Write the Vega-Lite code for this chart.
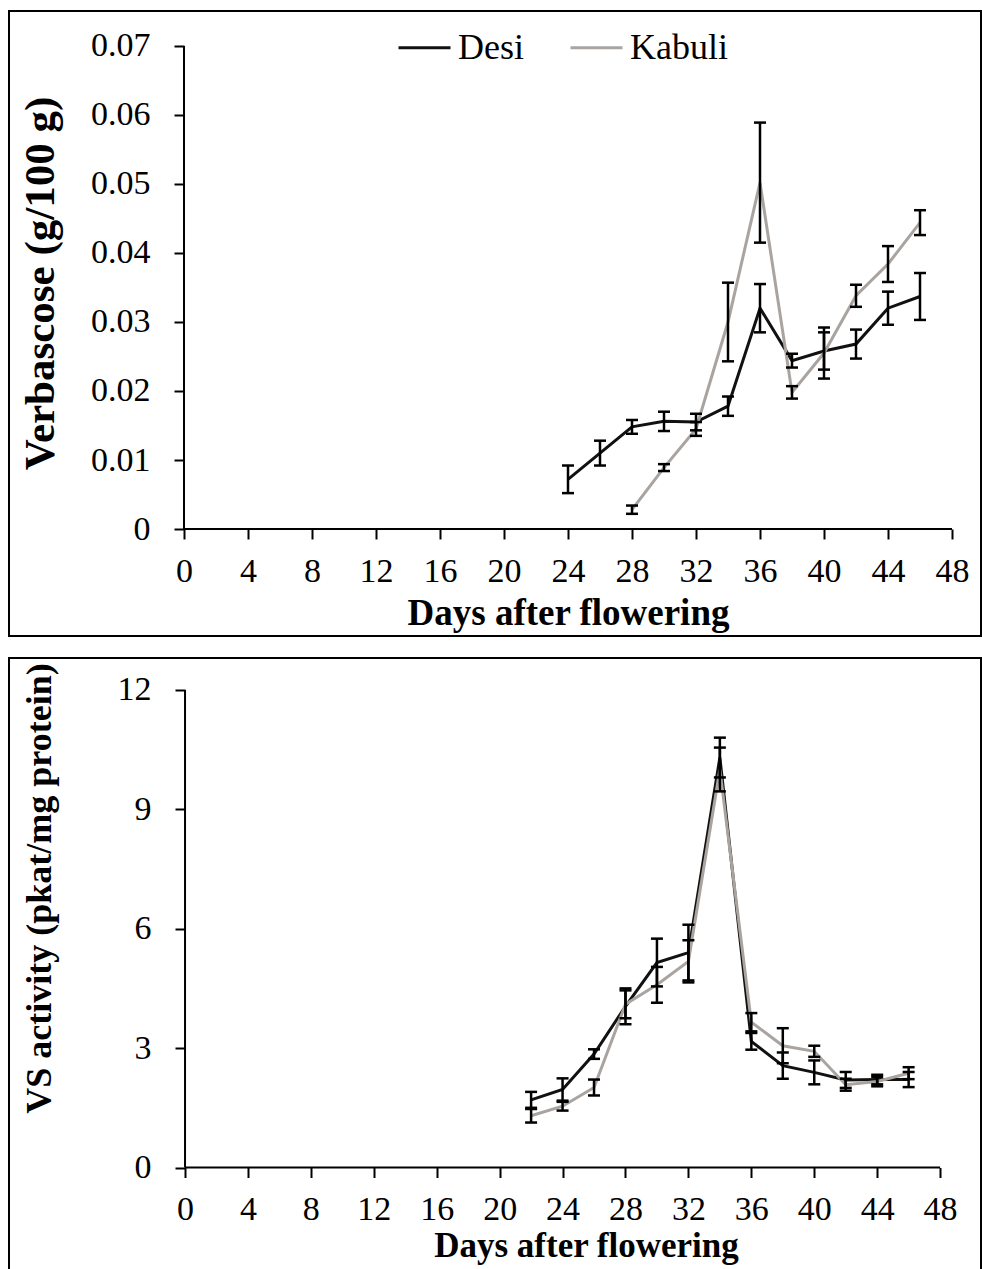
{
  "$schema": "https://vega.github.io/schema/vega-lite/v6.json",
  "background": "white",
  "padding": {"left": 8, "top": 10, "right": 0, "bottom": 0},
  "spacing": 20,
  "config": {
    "font": "Liberation Serif",
    "axis": {"grid": false, "domain": false, "tickColor": "black", "tickWidth": 2, "tickSize": 10, "labelColor": "black", "labelFont": "Liberation Serif", "labelFontSize": 34, "labelPadding": 15, "titleColor": "black", "titleFont": "Liberation Serif", "titleFontWeight": "bold", "titleFontSize": 34},
    "axisY": {"labelPadding": 24},
    "legend": {"labelFont": "Liberation Serif", "labelFontSize": 36, "labelColor": "black"},
    "line": {"strokeWidth": 3}
  },
  "datasets": {
    "verb": [
      {"day": 24, "cultivar": "Desi", "v": 0.0072, "e": 0.0020},
      {"day": 26, "cultivar": "Desi", "v": 0.0110, "e": 0.0018},
      {"day": 28, "cultivar": "Desi", "v": 0.0148, "e": 0.0010},
      {"day": 30, "cultivar": "Desi", "v": 0.0156, "e": 0.0014},
      {"day": 32, "cultivar": "Desi", "v": 0.0155, "e": 0.0012},
      {"day": 34, "cultivar": "Desi", "v": 0.0178, "e": 0.0014},
      {"day": 36, "cultivar": "Desi", "v": 0.0320, "e": 0.0035},
      {"day": 38, "cultivar": "Desi", "v": 0.0244, "e": 0.0010},
      {"day": 40, "cultivar": "Desi", "v": 0.0258, "e": 0.0027},
      {"day": 42, "cultivar": "Desi", "v": 0.0268, "e": 0.0021},
      {"day": 44, "cultivar": "Desi", "v": 0.0320, "e": 0.0024},
      {"day": 46, "cultivar": "Desi", "v": 0.0337, "e": 0.0034},
      {"day": 28, "cultivar": "Kabuli", "v": 0.0028, "e": 0.0006},
      {"day": 30, "cultivar": "Kabuli", "v": 0.0089, "e": 0.0005},
      {"day": 32, "cultivar": "Kabuli", "v": 0.0145, "e": 0.0010},
      {"day": 34, "cultivar": "Kabuli", "v": 0.0300, "e": 0.0057},
      {"day": 36, "cultivar": "Kabuli", "v": 0.0502, "e": 0.0087},
      {"day": 38, "cultivar": "Kabuli", "v": 0.0198, "e": 0.0009},
      {"day": 40, "cultivar": "Kabuli", "v": 0.0255, "e": 0.0037},
      {"day": 42, "cultivar": "Kabuli", "v": 0.0338, "e": 0.0016},
      {"day": 44, "cultivar": "Kabuli", "v": 0.0384, "e": 0.0026},
      {"day": 46, "cultivar": "Kabuli", "v": 0.0444, "e": 0.0018}
    ],
    "vs": [
      {"day": 22, "cultivar": "Desi", "v": 1.70, "e": 0.20},
      {"day": 24, "cultivar": "Desi", "v": 1.96, "e": 0.28},
      {"day": 26, "cultivar": "Desi", "v": 2.85, "e": 0.12},
      {"day": 28, "cultivar": "Desi", "v": 4.05, "e": 0.45},
      {"day": 30, "cultivar": "Desi", "v": 5.15, "e": 0.60},
      {"day": 32, "cultivar": "Desi", "v": 5.40, "e": 0.70},
      {"day": 34, "cultivar": "Desi", "v": 10.30, "e": 0.50},
      {"day": 36, "cultivar": "Desi", "v": 3.17, "e": 0.21},
      {"day": 38, "cultivar": "Desi", "v": 2.56, "e": 0.33},
      {"day": 40, "cultivar": "Desi", "v": 2.39, "e": 0.30},
      {"day": 42, "cultivar": "Desi", "v": 2.20, "e": 0.20},
      {"day": 44, "cultivar": "Desi", "v": 2.21, "e": 0.12},
      {"day": 46, "cultivar": "Desi", "v": 2.21, "e": 0.19},
      {"day": 22, "cultivar": "Kabuli", "v": 1.30, "e": 0.17},
      {"day": 24, "cultivar": "Kabuli", "v": 1.54, "e": 0.11},
      {"day": 26, "cultivar": "Kabuli", "v": 2.01, "e": 0.20},
      {"day": 28, "cultivar": "Kabuli", "v": 4.10, "e": 0.35},
      {"day": 30, "cultivar": "Kabuli", "v": 4.59, "e": 0.45},
      {"day": 32, "cultivar": "Kabuli", "v": 5.18, "e": 0.53},
      {"day": 34, "cultivar": "Kabuli", "v": 10.00, "e": 0.55},
      {"day": 36, "cultivar": "Kabuli", "v": 3.65, "e": 0.23},
      {"day": 38, "cultivar": "Kabuli", "v": 3.06, "e": 0.44},
      {"day": 40, "cultivar": "Kabuli", "v": 2.92, "e": 0.14},
      {"day": 42, "cultivar": "Kabuli", "v": 2.08, "e": 0.15},
      {"day": 44, "cultivar": "Kabuli", "v": 2.16, "e": 0.12},
      {"day": 46, "cultivar": "Kabuli", "v": 2.37, "e": 0.15}
    ]
  },
  "vconcat": [
    {
      "width": 972,
      "height": 625,
      "view": {"stroke": "black", "strokeWidth": 2},
      "layer": [
        {
          "data": {"name": "verb"},
          "mark": {"type": "line"},
          "encoding": {
            "x": {"field": "day", "type": "quantitative", "title": "Days after flowering", "scale": {"domain": [-10.9375, 49.8125], "nice": false, "zero": false},
                  "axis": {"offset": -107, "values": [0,4,8,12,16,20,24,28,32,36,40,44,48], "titleFontSize": 37, "titleX": 559, "titleY": 95, "titleAlign": "center", "titleBaseline": "alphabetic"}},
            "y": {"field": "v", "type": "quantitative", "title": "Verbascose (g/100 g)", "scale": {"domain": [-0.015507, 0.075072], "nice": false, "zero": false},
                  "axis": {"offset": -175, "values": [0,0.01,0.02,0.03,0.04,0.05,0.06,0.07], "labelExpr": "datum.value == 0 ? '0' : format(datum.value, '.2f')", "titleFontSize": 43, "titleX": -144, "titleY": 272, "titleAngle": 270, "titleAlign": "center", "titleBaseline": "middle"}},
            "color": {"field": "cultivar", "type": "nominal", "scale": {"domain": ["Desi", "Kabuli"], "range": ["#111111", "#aaa4a0"]},
                      "legend": {"orient": "none", "legendX": 388, "legendY": 9, "direction": "horizontal", "title": null, "symbolType": "stroke", "symbolSize": 2704, "symbolStrokeWidth": 3, "labelOffset": 6, "columnPadding": 40, "padding": 0}}
          }
        },
        {
          "data": {"name": "verb"},
          "mark": {"type": "errorbar", "color": "black", "opacity": 1, "ticks": {"size": 12, "thickness": 2.5, "color": "black", "opacity": 1}, "rule": {"strokeWidth": 2.5, "color": "black", "opacity": 1}},
          "encoding": {
            "x": {"field": "day", "type": "quantitative", "title": "Days after flowering"},
            "y": {"field": "v", "type": "quantitative", "title": "Verbascose (g/100 g)"},
            "yError": {"field": "e"}
          }
        },
        {
          "data": {"values": [{"day": 0, "day2": 48, "v": 0}]},
          "mark": {"type": "rule", "color": "black", "strokeWidth": 2},
          "encoding": {
            "x": {"field": "day", "type": "quantitative", "title": "Days after flowering"},
            "x2": {"field": "day2"},
            "y": {"field": "v", "type": "quantitative", "title": "Verbascose (g/100 g)"}
          }
        },
        {
          "data": {"values": [{"day": 0, "v": 0, "v2": 0.07}]},
          "mark": {"type": "rule", "color": "black", "strokeWidth": 2},
          "encoding": {
            "x": {"field": "day", "type": "quantitative", "title": "Days after flowering"},
            "y": {"field": "v", "type": "quantitative", "title": "Verbascose (g/100 g)"},
            "y2": {"field": "v2"}
          }
        }
      ]
    },
    {
      "width": 972,
      "height": 620,
      "view": {"stroke": "black", "strokeWidth": 2},
      "layer": [
        {
          "data": {"name": "vs"},
          "mark": {"type": "line"},
          "encoding": {
            "x": {"field": "day", "type": "quantitative", "title": "Days after flowering", "scale": {"domain": [-11.19, 50.6], "nice": false, "zero": false},
                  "axis": {"offset": -110.5, "values": [0,4,8,12,16,20,24,28,32,36,40,44,48], "titleFontSize": 35, "titleX": 577, "titleY": 89, "titleAlign": "center", "titleBaseline": "alphabetic"}},
            "y": {"field": "v", "type": "quantitative", "title": "VS activity (pkat/mg protein)", "scale": {"domain": [-2.776, 12.801], "nice": false, "zero": false},
                  "axis": {"offset": -176, "values": [0,3,6,9,12], "titleFontSize": 36, "titleX": -146, "titleY": 230, "titleAngle": 270, "titleAlign": "center", "titleBaseline": "middle"}},
            "color": {"field": "cultivar", "type": "nominal", "scale": {"domain": ["Desi", "Kabuli"], "range": ["#111111", "#aaa4a0"]},
                      "legend": {"orient": "none", "legendX": 379, "legendY": 29, "direction": "horizontal", "title": null, "symbolType": "stroke", "symbolSize": 2916, "symbolStrokeWidth": 3, "labelOffset": 6, "columnPadding": 26, "padding": 0}}
          }
        },
        {
          "data": {"name": "vs"},
          "mark": {"type": "errorbar", "color": "black", "opacity": 1, "ticks": {"size": 12, "thickness": 2.5, "color": "black", "opacity": 1}, "rule": {"strokeWidth": 2.5, "color": "black", "opacity": 1}},
          "encoding": {
            "x": {"field": "day", "type": "quantitative", "title": "Days after flowering"},
            "y": {"field": "v", "type": "quantitative", "title": "VS activity (pkat/mg protein)"},
            "yError": {"field": "e"}
          }
        },
        {
          "data": {"values": [{"day": 0, "day2": 48, "v": 0}]},
          "mark": {"type": "rule", "color": "black", "strokeWidth": 2},
          "encoding": {
            "x": {"field": "day", "type": "quantitative", "title": "Days after flowering"},
            "x2": {"field": "day2"},
            "y": {"field": "v", "type": "quantitative", "title": "VS activity (pkat/mg protein)"}
          }
        },
        {
          "data": {"values": [{"day": 0, "v": 0, "v2": 12}]},
          "mark": {"type": "rule", "color": "black", "strokeWidth": 2},
          "encoding": {
            "x": {"field": "day", "type": "quantitative", "title": "Days after flowering"},
            "y": {"field": "v", "type": "quantitative", "title": "VS activity (pkat/mg protein)"},
            "y2": {"field": "v2"}
          }
        }
      ]
    }
  ]
}
